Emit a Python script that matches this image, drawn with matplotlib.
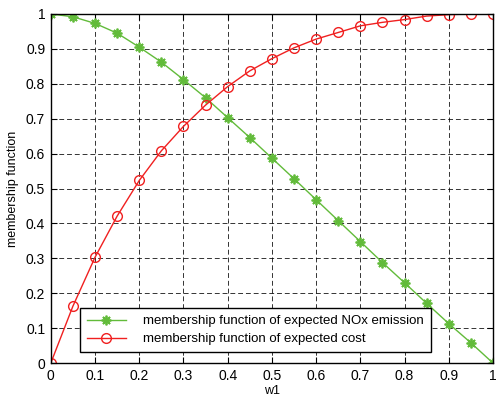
import matplotlib
matplotlib.use("Agg")
import matplotlib.pyplot as plt
import numpy as np

plt.rcParams['font.family'] = ['Liberation Sans', 'DejaVu Sans']

w1 = [0, 0.05, 0.1, 0.15, 0.2, 0.25, 0.3, 0.35, 0.4, 0.45, 0.5,
      0.55, 0.6, 0.65, 0.7, 0.75, 0.8, 0.85, 0.9, 0.95, 1.0]
nox = [1.0, 0.992, 0.973, 0.945, 0.905, 0.862, 0.812, 0.760, 0.703, 0.646, 0.587,
       0.528, 0.468, 0.408, 0.348, 0.288, 0.230, 0.171, 0.113, 0.058, 0.0]
cost = [0.0, 0.163, 0.303, 0.421, 0.523, 0.608, 0.678, 0.739, 0.792, 0.837, 0.872,
        0.903, 0.928, 0.947, 0.966, 0.976, 0.984, 0.994, 0.998, 1.0, 1.0]
ticks = [0, 0.1, 0.2, 0.3, 0.4, 0.5, 0.6, 0.7, 0.8, 0.9, 1]
tick_labels = ['0', '0.1', '0.2', '0.3', '0.4', '0.5', '0.6', '0.7', '0.8', '0.9', '1']
labels = ['membership function of expected NOx emission',
          'membership function of expected cost']

fig = plt.figure(figsize=(4.98, 3.99), dpi=100)
ax = fig.add_axes([0.102, 0.090, 0.888, 0.875])

ax.plot(w1, nox, color='#62bb3a', marker=(8, 2, 0), markersize=7, markeredgewidth=1.3,
        linewidth=1.0, label=labels[0])
ax.plot(w1, cost, color='#f02020', marker='o', markersize=7, markerfacecolor='none',
        markeredgewidth=1.0, linewidth=1.0, label=labels[1])

ax.set_xlim(0, 1)
ax.set_ylim(0, 1)
ax.set_xticks(ticks)
ax.set_xticklabels(tick_labels)
ax.set_yticks(ticks)
ax.set_yticklabels(tick_labels)
ax.tick_params(direction='in', length=4, width=0.8, top=True, right=True,
               labelsize=10, pad=4)
for s in ax.spines.values():
    s.set_linewidth(1.0)
ax.grid(True, color='black', linestyle=(0, (5, 3)), linewidth=0.7, alpha=0.8)
ax.set_axisbelow(True)

ax.set_xlabel('w1', fontsize=9, labelpad=2)
ax.set_ylabel('membership function', fontsize=9, labelpad=5)

leg = ax.legend(loc='lower left', bbox_to_anchor=(0.066, 0.032), fontsize=9.5,
                fancybox=False, edgecolor='black', framealpha=1.0,
                borderaxespad=0, handlelength=3.0, handletextpad=1.3,
                borderpad=0.5, labelspacing=0.45)
leg.get_frame().set_linewidth(1.0)

fig.savefig('out.png', dpi=100)
